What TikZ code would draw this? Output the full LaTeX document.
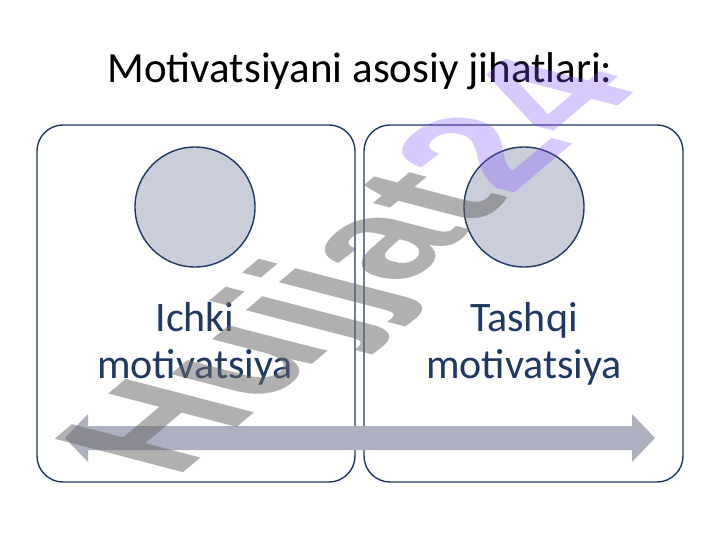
\documentclass[tikz,border=0pt]{standalone}
\usepackage{fontspec}
\setmainfont{Carlito}
\newfontfamily\wmfont{Liberation Sans}
\definecolor{navy}{HTML}{1F3864}
\definecolor{circfill}{HTML}{CACEDA}
\definecolor{arrowcol}{HTML}{ADB0C0}
\definecolor{wmgray}{HTML}{686868}
\definecolor{wmpurple}{HTML}{7F4FFF}
\tikzset{
  panel/.style={draw=navy, line width=1.4pt, rounded corners=26pt, fill=white},
  disc/.style={circle, draw=navy, line width=1.4pt, fill=circfill, minimum size=120pt, inner sep=0pt},
  label/.style={text=navy, font=\fontsize{42}{47}\selectfont, align=center, inner sep=0pt, anchor=base},
  wm/.style={transform shape, inner sep=0pt, font=\wmfont\bfseries\fontsize{100}{100}\selectfont},
}
\begin{document}
\begin{tikzpicture}[x=1pt, y=-1pt]
\useasboundingbox[fill=white] (0,0) rectangle (720,540);
\node[font=\fontsize{43}{50}\selectfont, anchor=base, inner sep=0pt] (title) at (360,83) {Motivatsiyani asosiy jihatlari:};
\draw[panel] (37,125) rectangle (355,482);
\draw[panel] (364,125) rectangle (683,482);
\node[disc] (c1) at (195,207) {};
\node[disc] (c2) at (524,207) {};
\node[label] (l1) at (195,378) {Ichki\\motivatsiya};
\node[label] (l2) at (524,378) {Tashqi\\motivatsiya};
\fill[arrowcol] (65,438) -- (88,414) -- (88,426) -- (632,426) -- (632,414) -- (655,438)
  -- (632,462) -- (632,450) -- (88,450) -- (88,462) -- cycle;
\begin{scope}[shift={(175,480)}, cm={1.207,1.019,-1.868,0.486,(0,0)}]
  \node[wm, anchor=base west, text=wmgray, text opacity=0.52] (w1) at (0,0) {Hujjat};
  \node[wm, anchor=base west, text=wmpurple, text opacity=0.3] (w2) at (w1.base east) {24};
\end{scope}
\end{tikzpicture}
\end{document}
